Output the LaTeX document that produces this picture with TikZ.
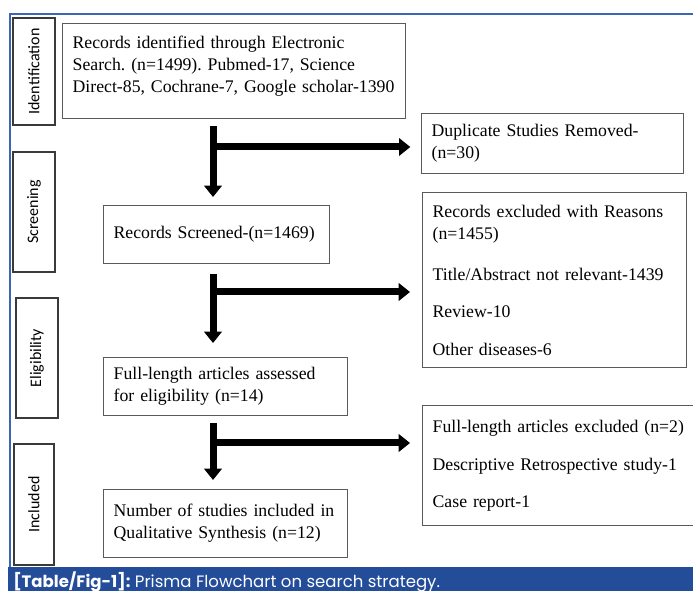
\documentclass[tikz,border=0pt]{standalone}
\usepackage{fontspec}
\setmainfont{Liberation Serif}
\newfontfamily\phasefont{Carlito}
\newfontfamily\capfont{Poppins}
\usetikzlibrary{arrows.meta}
\definecolor{frameBlue}{HTML}{3A66B5}
\definecolor{capBlue}{HTML}{234C99}
\definecolor{boxGray}{HTML}{5A5A5A}
\definecolor{phaseGray}{HTML}{3A3A3A}

\begin{document}
\frenchspacing
\begin{tikzpicture}[x=0.75pt, y=-0.75pt,
    box/.style={draw=boxGray, line width=1pt, align=left, inner xsep=7.5pt, anchor=north west,
      font=\fontsize{13.3}{16.5}\selectfont},
    phase/.style={draw=phaseGray, line width=1.6pt, rotate=90, inner sep=0pt,
      font=\phasefont\fontsize{12}{14}\selectfont},
    flow/.style={line width=5.25pt, -{Triangle[width=13pt,length=8.5pt]}}]
  \useasboundingbox (0,0) rectangle (693,591);

  % frame and caption bar
  \fill[capBlue] (8,567) rectangle (693,595);
  \draw[frameBlue, line width=1.2pt] (10,567) -- (10,14) -- (693,14);
  \node[anchor=base west, inner sep=0pt, text=white, font=\capfont\fontsize{12.4}{14}\selectfont] (caption) at (13,587)
    {\textbf{[Table/Fig-1]:} Prisma Flowchart on search strategy.};

  % phase labels
  \node[phase, minimum width=80.25pt, minimum height=31.5pt] (idLabel) at (34,71.5) {Identification};
  \node[phase, minimum width=90pt, minimum height=31.5pt] (scrLabel) at (34,212) {Screening};
  \node[phase, minimum width=90pt, minimum height=31.5pt] (eliLabel) at (37,358) {Eligibility};
  \node[phase, minimum width=90.75pt, minimum height=30pt] (incLabel) at (34,504.5) {Included};

  % main column
  \node[box, text width=242pt, minimum height=71.25pt] (records) at (62,23)
    {Records identified through Electronic\\ Search. (n=1499). Pubmed-17, Science\\ Direct-85, Cochrane-7, Google scholar-1390\\[-6pt]\mbox{}};
  \node[box, text width=154.5pt, minimum height=43.5pt] (screened) at (103,205) {Records Screened-(n=1469)};
  \node[box, text width=168pt, minimum height=43.5pt] (assessed) at (103,357)
    {Full-length articles assessed\\ for eligibility (n=14)};
  \node[box, text width=168pt, minimum height=51pt] (included) at (103,489)
    {Number of studies included in\\ Qualitative Synthesis (n=12)};

  % excluded boxes
  \node[box, text width=181.5pt, minimum height=45pt] (dup) at (421,113)
    {Duplicate Studies Removed-\\ (n=30)};
  \node[box, text width=183pt, minimum height=131.25pt] (excluded) at (422,192)
    {Records excluded with Reasons\\ (n=1455)\\[14.25pt] Title/Abstract not relevant-1439\\[11.25pt] Review-10\\[12pt] Other diseases-6};
  \node[box, text width=192pt, minimum height=90pt] (fullExcl) at (422,405)
    {Full-length articles excluded (n=2)\\[12pt] Descriptive Retrospective study-1\\[11.25pt] Case report-1};

  % connectors
  \coordinate (t1) at (213,147);
  \coordinate (t2) at (213,292);
  \coordinate (t3) at (213,443);
  \draw[flow, shorten <=5pt, shorten >=6pt] (records.south -| t1) -- (screened.north -| t1);
  \draw[flow, shorten >=8pt] (t1) -- (t1 -| dup.west);
  \draw[flow, shorten <=7.5pt, shorten >=10.5pt] (screened.south -| t2) -- (assessed.north -| t2);
  \draw[flow, shorten >=9pt] (t2) -- (t2 -| excluded.west);
  \draw[flow, shorten <=5.25pt, shorten >=6.75pt] (assessed.south -| t3) -- (included.north -| t3);
  \draw[flow, shorten >=9pt] (t3) -- (t3 -| fullExcl.west);
\end{tikzpicture}
\end{document}
